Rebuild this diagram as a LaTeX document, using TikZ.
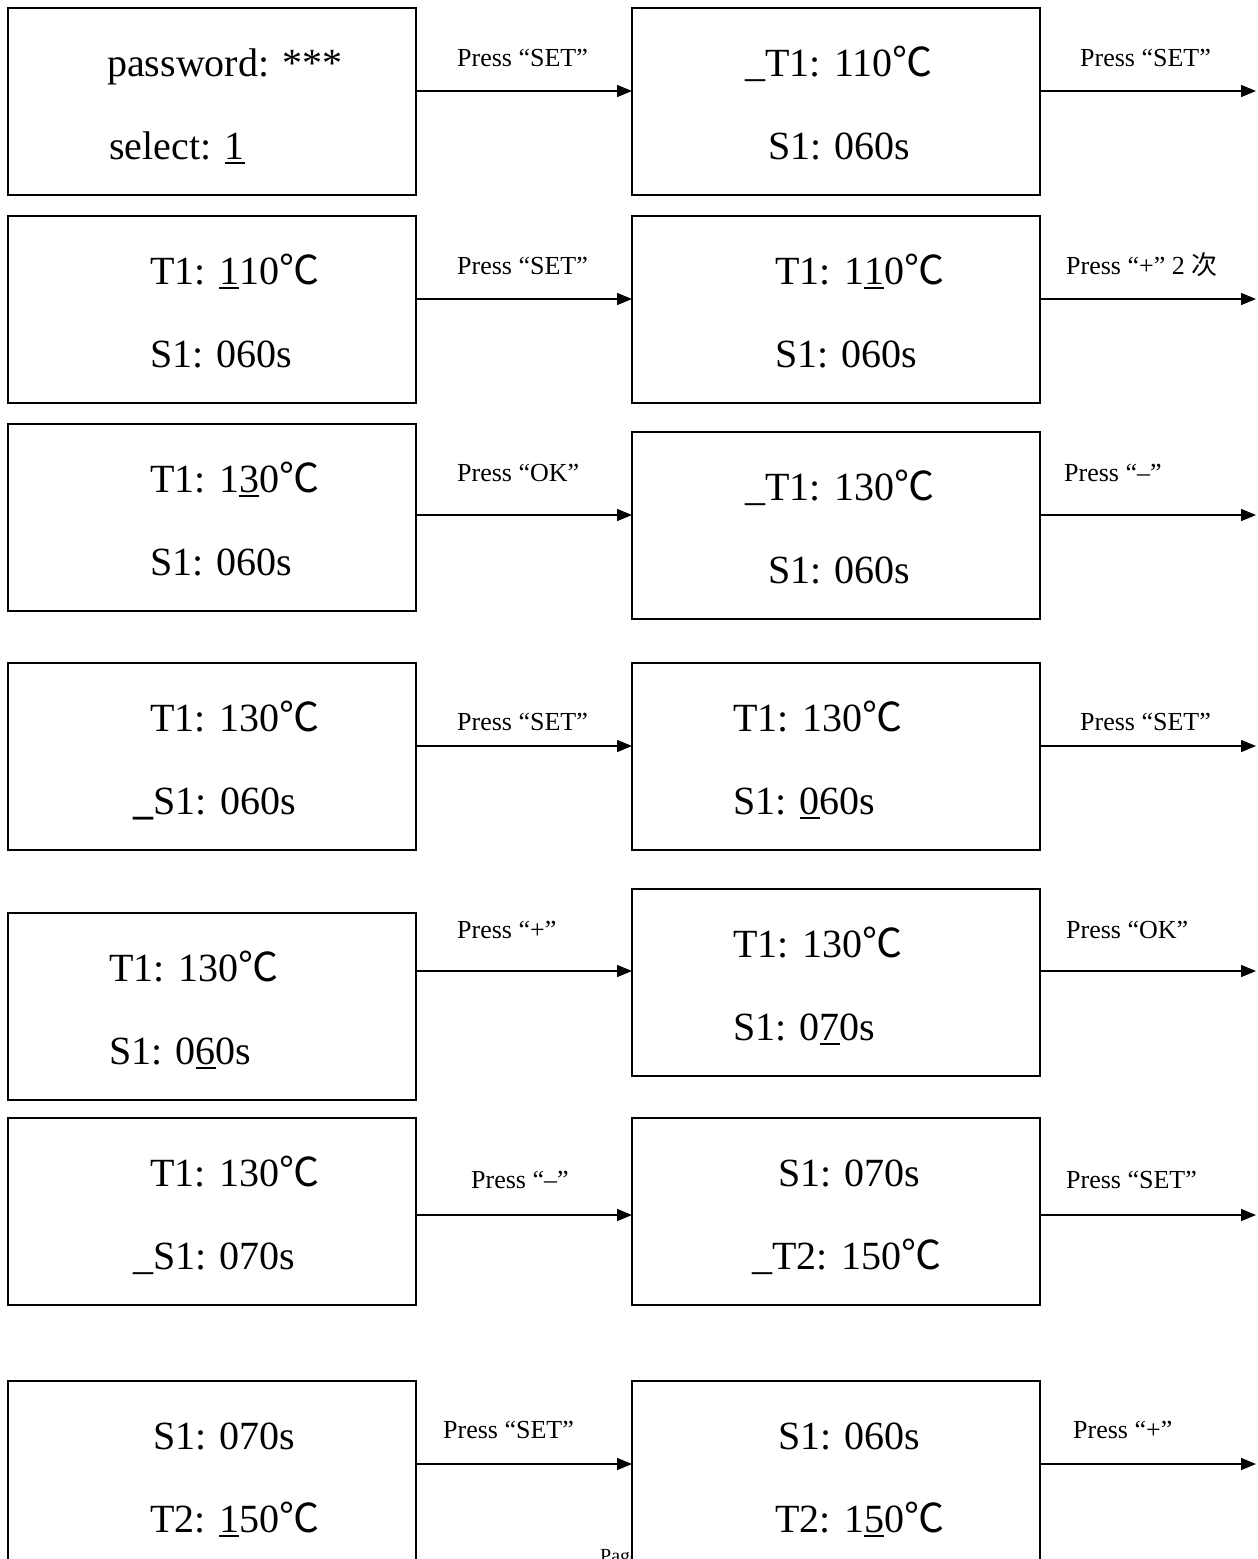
\documentclass[tikz,border=0pt]{standalone}
\usepackage{fontspec}
\setmainfont{Liberation Serif}
\newfontfamily\cjk{Noto Sans CJK SC}
\usetikzlibrary{arrows.meta}
\newsavebox\undlbox
\newcommand\undl[1]{\sbox\undlbox{#1}\rlap{\rule[-5pt]{\wd\undlbox}{2pt}}\usebox\undlbox\relax}
\newcommand\degc{{\cjk ℃}}
% name, box left, box top, x1, line1, x2, line2
\newcommand\scr[7]{%
  \node[box] (#1) at (#2+204,#3+93.5) {};
  \node[big] (#1a) at (#4,#3+68) {#5};
  \node[big] (#1b) at (#6,#3+151) {#7};
}
\begin{document}
\begin{tikzpicture}[x=1pt,y=-1pt,
  box/.style={draw, line width=1.5pt, fill=white, minimum width=408pt, minimum height=187pt, inner sep=0pt, outer sep=0pt},
  big/.style={anchor=base west, inner sep=0pt, font=\fontsize{40}{48}\selectfont},
  lab/.style={anchor=base west, inner sep=0pt, font=\fontsize{26}{31}\selectfont},
  foot/.style={anchor=base west, inner sep=0pt, font=\fontsize{20}{24}\selectfont},
  arr/.style={line width=1.5pt, -{Triangle[length=15pt,width=12pt]}}]
\useasboundingbox (0,0) rectangle (1258,1559);
\node[foot] (page) at (600,1562) {Page};

% row 1
\scr{L1}{8}{8}{107}{password: ***}{109}{select: \undl{1}}
\scr{R1}{632}{8}{745}{\_T1: 110\degc}{768}{S1: 060s}
% row 2
\scr{L2}{8}{216}{150}{T1: \undl{1}10\degc}{150}{S1: 060s}
\scr{R2}{632}{216}{775}{T1: 1\undl{1}0\degc}{775}{S1: 060s}
% row 3
\scr{L3}{8}{424}{150}{T1: 1\undl{3}0\degc}{150}{S1: 060s}
\scr{R3}{632}{432}{745}{\_T1: 130\degc}{768}{S1: 060s}
% row 4
\scr{L4}{8}{663}{150}{T1: 130\degc}{133}{\textbf{\_}S1: 060s}
\scr{R4}{632}{663}{733}{T1: 130\degc}{733}{S1: \undl{0}60s}
% row 5
\scr{L5}{8}{913}{109}{T1: 130\degc}{109}{S1: 0\undl{6}0s}
\scr{R5}{632}{889}{733}{T1: 130\degc}{733}{S1: 0\undl{7}0s}
% row 6
\scr{L6}{8}{1118}{150}{T1: 130\degc}{133}{\_S1: 070s}
\scr{R6}{632}{1118}{778}{S1: 070s}{752}{\_T2: 150\degc}
% row 7
\scr{L7}{8}{1381}{153}{S1: 070s}{150}{T2: \undl{1}50\degc}
\scr{R7}{632}{1381}{778}{S1: 060s}{775}{T2: 1\undl{5}0\degc}

% arrow levels and free ends
\foreach \i/\y in {1/91,2/299,3/515,4/746,5/971,6/1215,7/1464}{
  \coordinate (a\i) at (0,\y);
  \coordinate (e\i) at (1256,\y);
  \draw[arr] (L\i.east |- a\i) -- (R\i.west |- a\i);
  \draw[arr] (R\i.east |- a\i) -- (e\i);
}

% labels
\node[lab] (p1l) at (457,66) {Press “SET”};
\node[lab] (p1r) at (1080,66) {Press “SET”};
\node[lab] (p2l) at (457,274) {Press “SET”};
\node[lab] (p2r) at (1066,274) {Press “+” 2 {\cjk 次}};
\node[lab] (p3l) at (457,481) {Press “OK”};
\node[lab] (p3r) at (1064,481) {Press “–”};
\node[lab] (p4l) at (457,730) {Press “SET”};
\node[lab] (p4r) at (1080,730) {Press “SET”};
\node[lab] (p5l) at (457,938) {Press “+”};
\node[lab] (p5r) at (1066,938) {Press “OK”};
\node[lab] (p6l) at (471,1188) {Press “–”};
\node[lab] (p6r) at (1066,1188) {Press “SET”};
\node[lab] (p7l) at (443,1438) {Press “SET”};
\node[lab] (p7r) at (1073,1438) {Press “+”};
\end{tikzpicture}
\end{document}
